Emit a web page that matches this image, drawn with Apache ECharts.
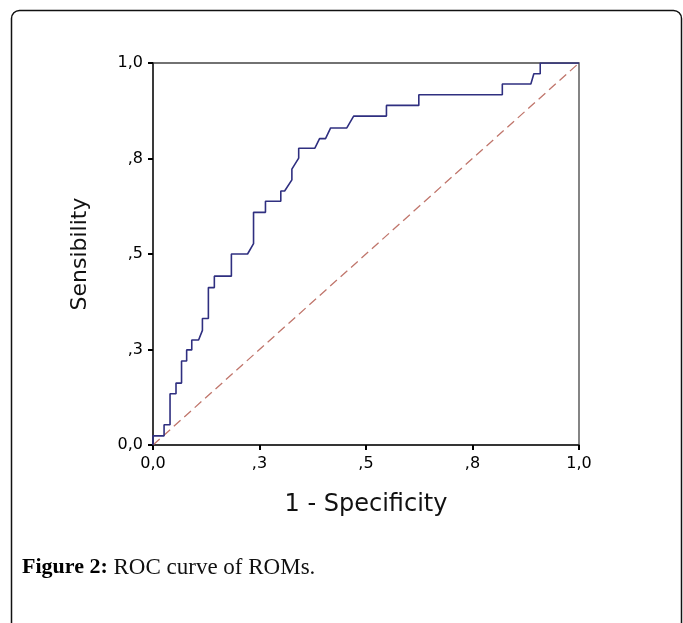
<!DOCTYPE html>
<html>
<head>
<meta charset="utf-8">
<script src="https://cdn.jsdelivr.net/npm/echarts@6/dist/echarts.min.js"></script>
<style>
html,body{margin:0;padding:0;background:#fff;}
#chart{width:683px;height:623px;}
</style>
</head>
<body>
<div id="chart"></div>
<script>
// ROC curve points (1 - specificity, sensitivity)
const rocX = [0, 0, 0.026, 0.026, 0.040, 0.040, 0.054, 0.054, 0.067, 0.067, 0.079, 0.079, 0.091, 0.091, 0.107, 0.116, 0.116, 0.130, 0.130, 0.144, 0.144, 0.184, 0.184, 0.222, 0.236, 0.236, 0.264, 0.264, 0.300, 0.300, 0.309, 0.326, 0.326, 0.342, 0.342, 0.380, 0.391, 0.405, 0.417, 0.455, 0.471, 0.548, 0.548, 0.624, 0.624, 0.820, 0.820, 0.887, 0.894, 0.909, 0.909, 1.0];
const rocY = [0, 0.024, 0.024, 0.053, 0.053, 0.134, 0.134, 0.162, 0.162, 0.220, 0.220, 0.249, 0.249, 0.275, 0.275, 0.300, 0.331, 0.331, 0.412, 0.412, 0.442, 0.442, 0.5, 0.5, 0.527, 0.609, 0.609, 0.638, 0.638, 0.665, 0.665, 0.694, 0.722, 0.751, 0.777, 0.777, 0.802, 0.802, 0.830, 0.830, 0.861, 0.861, 0.889, 0.889, 0.917, 0.917, 0.945, 0.945, 0.972, 0.972, 1.0, 1.0];
// Reference diagonal
const refX = [0, 1];
const refY = [0, 1];
// Tick labels
const tickLabels = ['0,0', ',3', ',5', ',8', '1,0'];
const xTitle = '1 - Specificity';
const yTitle = 'Sensibility';
const captionBold = 'Figure 2:';
const captionText = ' ROC curve of ROMs.';

const chart = echarts.init(document.getElementById('chart'), null, {renderer: 'canvas'});
const fmt = v => tickLabels[Math.round(v / 0.25)];
const axisCommon = {
  type: 'value', min: 0, max: 1, interval: 0.25,
  splitLine: {show: false},
  axisLine: {show: true, lineStyle: {color: '#222', width: 1.5}},
  axisTick: {show: true, length: 5, lineStyle: {color: '#000', width: 2}},
  nameLocation: 'middle'
};
chart.setOption({
  animation: false,
  backgroundColor: '#fff',
  title: {
    text: '{b|' + captionBold + '}{n|' + captionText + '}',
    left: 17, top: 551,
    textStyle: {
      fontWeight: 'normal',
      rich: {
        b: {fontFamily: 'Liberation Serif', fontWeight: 'bold', fontSize: 22, color: '#000'},
        n: {fontFamily: 'Liberation Serif', fontWeight: 'normal', fontSize: 23, color: '#111'}
      }
    }
  },
  graphic: [{
    type: 'rect', z: -1,
    shape: {x: 11.5, y: 10.5, width: 670, height: 660, r: 8},
    style: {fill: 'none', stroke: '#111', lineWidth: 1.5}
  }],
  grid: {left: 153, top: 63, width: 426, height: 382, show: true, borderColor: '#444', borderWidth: 1.3, backgroundColor: 'transparent'},
  xAxis: Object.assign({}, axisCommon, {
    name: xTitle, nameGap: 48,
    axisLabel: {formatter: fmt, color: '#000', fontFamily: 'DejaVu Sans', fontSize: 16, margin: 11},
    nameTextStyle: {color: '#111', fontFamily: 'DejaVu Sans', fontSize: 24}
  }),
  yAxis: Object.assign({}, axisCommon, {
    name: yTitle, nameGap: 62, nameRotate: 90,
    axisLabel: {formatter: fmt, color: '#000', fontFamily: 'DejaVu Sans', fontSize: 16, margin: 10},
    nameTextStyle: {color: '#111', fontFamily: 'DejaVu Sans', fontSize: 22}
  }),
  series: [
    {
      type: 'line', data: refX.map((x, i) => [x, refY[i]]),
      symbol: 'none', silent: true,
      lineStyle: {color: '#c0766c', width: 1.3, type: [9, 5]}
    },
    {
      type: 'line', data: rocX.map((x, i) => [x, rocY[i]]),
      symbol: 'none', silent: true,
      lineStyle: {color: '#2f2f80', width: 1.6}
    }
  ]
});
</script>
</body>
</html>
